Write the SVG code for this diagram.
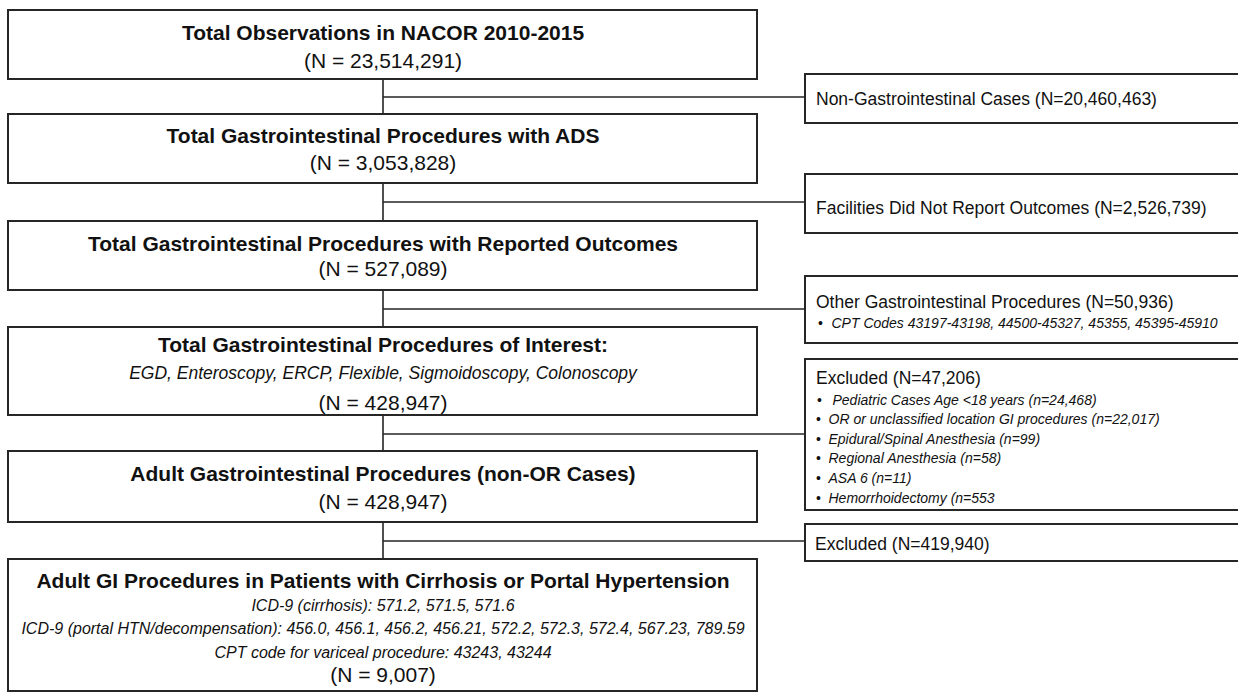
<svg xmlns="http://www.w3.org/2000/svg" width="1238" height="692" viewBox="0 0 1238 692">
<style>
.box{fill:#fff;stroke:#262626;stroke-width:2}
.ln{fill:none;stroke:#262626;stroke-width:1.6}
text{font-family:"Liberation Sans",Arial,sans-serif;fill:#111}
.t{font-size:21px;font-weight:bold;text-anchor:middle}
.n{font-size:21px;text-anchor:middle}
.im{font-size:17.5px;font-style:italic;text-anchor:middle}
.is{font-size:16px;font-style:italic;text-anchor:middle}
.r{font-size:17.5px}
.b{font-size:14px;font-style:italic}
.bu{font-size:14px}
</style>
<rect width="1238" height="692" fill="#fff"/>
<g id="connectors">
<path class="ln" d="M383 79V114M383 183V221M383 290V327M383 415V451M383 522V559"/>
<path class="ln" d="M383 97H805M383 202H805M383 309H805M383 434H805M383 541H805"/>
</g>
<g id="n1">
<rect class="box" x="8" y="10" width="749" height="69"/>
<text class="t" x="383" y="40">Total Observations in NACOR 2010-2015</text>
<text class="n" x="383" y="68">(N = 23,514,291)</text>
</g>
<g id="n2">
<rect class="box" x="8" y="114" width="749" height="69"/>
<text class="t" x="383" y="143">Total Gastrointestinal Procedures with ADS</text>
<text class="n" x="383" y="170">(N = 3,053,828)</text>
</g>
<g id="n3">
<rect class="box" x="8" y="221" width="749" height="69"/>
<text class="t" x="383" y="251">Total Gastrointestinal Procedures with Reported Outcomes</text>
<text class="n" x="383" y="276">(N = 527,089)</text>
</g>
<g id="n4">
<rect class="box" x="8" y="327" width="749" height="88"/>
<text class="t" x="383" y="351.5">Total Gastrointestinal Procedures of Interest:</text>
<text class="im" x="383" y="379">EGD, Enteroscopy, ERCP, Flexible, Sigmoidoscopy, Colonoscopy</text>
<text class="n" x="383" y="409.5">(N = 428,947)</text>
</g>
<g id="n5">
<rect class="box" x="8" y="451" width="749" height="71"/>
<text class="t" x="383" y="480.5">Adult Gastrointestinal Procedures (non-OR Cases)</text>
<text class="n" x="383" y="509">(N = 428,947)</text>
</g>
<g id="n6">
<rect class="box" x="8" y="559" width="749" height="132"/>
<text class="t" x="383" y="587.5">Adult GI Procedures in Patients with Cirrhosis or Portal Hypertension</text>
<text class="is" x="383" y="611">ICD-9 (cirrhosis): 571.2, 571.5, 571.6</text>
<text class="is" x="383" y="634">ICD-9 (portal HTN/decompensation): 456.0, 456.1, 456.2, 456.21, 572.2, 572.3, 572.4, 567.23, 789.59</text>
<text class="is" x="383" y="657.5">CPT code for variceal procedure: 43243, 43244</text>
<text class="n" x="383" y="682">(N = 9,007)</text>
</g>
<g id="e1">
<rect class="box" x="805" y="74" width="440" height="49"/>
<text class="r" x="816" y="105">Non-Gastrointestinal Cases (N=20,460,463)</text>
</g>
<g id="e2">
<rect class="box" x="805" y="174" width="440" height="59"/>
<text class="r" x="816" y="214">Facilities Did Not Report Outcomes (N=2,526,739)</text>
</g>
<g id="e3">
<rect class="box" x="805" y="276" width="440" height="67"/>
<text class="r" x="816" y="308">Other Gastrointestinal Procedures (N=50,936)</text>
<text class="bu" x="818" y="328">•</text>
<text class="b" x="831.5" y="328">CPT Codes 43197-43198, 44500-45327, 45355, 45395-45910</text>
</g>
<g id="e4">
<rect class="box" x="805" y="359" width="440" height="151"/>
<text class="r" x="816" y="384">Excluded (N=47,206)</text>
<text class="bu" x="817" y="405">•</text>
<text class="b" x="832.5" y="405">Pediatric Cases Age &lt;18 years (n=24,468)</text>
<text class="bu" x="816" y="424">•</text>
<text class="b" x="828.5" y="424">OR or unclassified location GI procedures (n=22,017)</text>
<text class="bu" x="816" y="444">•</text>
<text class="b" x="828.5" y="444">Epidural/Spinal Anesthesia (n=99)</text>
<text class="bu" x="816" y="463">•</text>
<text class="b" x="828.5" y="463">Regional Anesthesia (n=58)</text>
<text class="bu" x="816" y="483">•</text>
<text class="b" x="828.5" y="483">ASA 6 (n=11)</text>
<text class="bu" x="816" y="503">•</text>
<text class="b" x="828.5" y="503">Hemorrhoidectomy (n=553</text>
</g>
<g id="e5">
<rect class="box" x="805" y="524" width="440" height="37"/>
<text class="r" x="815" y="550">Excluded (N=419,940)</text>
</g>
</svg>
